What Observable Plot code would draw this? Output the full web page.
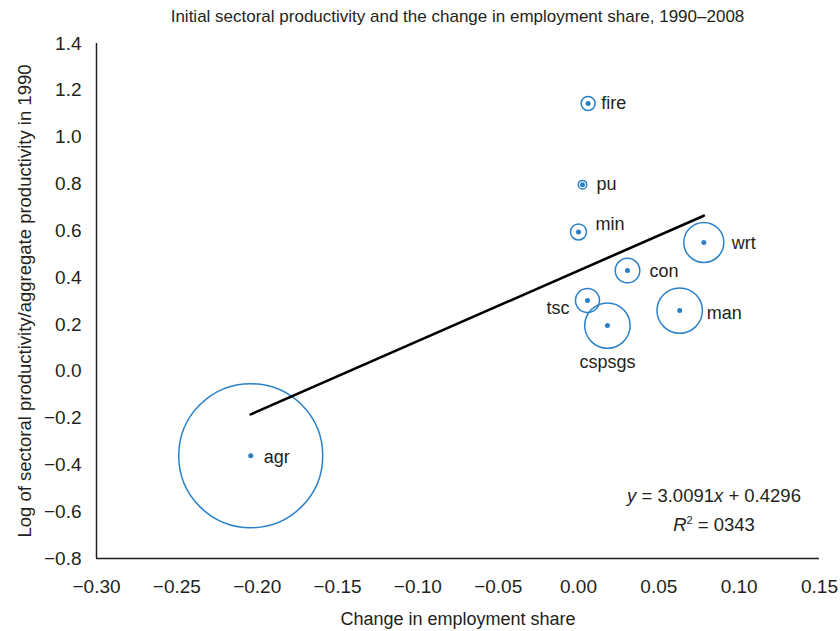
<!DOCTYPE html>
<html>
<head>
<meta charset="utf-8">
<script src="https://cdn.jsdelivr.net/npm/d3@7"></script>
<script src="https://cdn.jsdelivr.net/npm/@observablehq/plot@0.6"></script>
<style>
  body { margin: 0; background: #fff; font-family: "Liberation Sans", Arial, sans-serif; color: #231f20; }
  #wrap { position: relative; width: 840px; height: 631px; }
  #title { height: 34px; line-height: 34px; margin-left: 96px; width: 723px; text-align: center; font-size: 17px; white-space: nowrap; }
  #eq { position: absolute; left: 604px; top: 483px; width: 220px; text-align: center; font-size: 18.5px; line-height: 25px; }
  #eq i { font-style: italic; }
</style>
</head>
<body>
<div id="wrap">
  <div id="title">Initial sectoral productivity and the change in employment share, 1990–2008</div>
  <div id="chart"></div>
  <div id="eq"></div>
</div>
<script>
// ---- data ----
const sectors = ["agr", "min", "man", "pu", "con", "wrt", "tsc", "fire", "cspsgs"];
const changeInShare = [-0.204, 0.000, 0.063, 0.0025, 0.0305, 0.078, 0.0056, 0.006, 0.018];
const logRelProductivity = [-0.361, 0.595, 0.259, 0.797, 0.430, 0.550, 0.302, 1.144, 0.195];
const initialShare = [0.600, 0.0074, 0.0596, 0.0021, 0.0175, 0.0463, 0.0167, 0.0057, 0.0596];
const xTicks = [-0.30, -0.25, -0.20, -0.15, -0.10, -0.05, 0.00, 0.05, 0.10, 0.15];
const yTicks = [-0.8, -0.6, -0.4, -0.2, 0.0, 0.2, 0.4, 0.6, 0.8, 1.0, 1.2, 1.4];
const trendSlope = 3.0091;
const trendIntercept = 0.4296;
const trendR2Text = "0343";

// ---- label placement (style) ----
const labelPlacement = {
  agr:    { textAnchor: "start",  dx: 13,  dy: 2 },
  min:    { textAnchor: "start",  dx: 17,  dy: -8 },
  man:    { textAnchor: "start",  dx: 27,  dy: 3 },
  pu:     { textAnchor: "start",  dx: 14,  dy: 0 },
  con:    { textAnchor: "start",  dx: 22,  dy: 1 },
  wrt:    { textAnchor: "start",  dx: 28,  dy: 1 },
  tsc:    { textAnchor: "end",    dx: -18, dy: 8 },
  fire:   { textAnchor: "start",  dx: 13,  dy: 0 },
  cspsgs: { textAnchor: "middle", dx: 0,   dy: 37 }
};

const rows = sectors.map((s, i) => ({
  sector: s, x: changeInShare[i], y: logRelProductivity[i], share: initialShare[i]
}));
const trendPts = d3.extent(changeInShare).map(x => ({ x, y: trendSlope * x + trendIntercept }));

const blue = "#2a80c8";
const ink = "#231f20";
const fmtX = d => d.toFixed(2).replace("-", "\u2212");
const fmtY = d => d.toFixed(1).replace("-", "\u2212");

const chart = Plot.plot({
  width: 840,
  height: 597,
  marginTop: 9,
  marginBottom: 73,
  marginLeft: 96,
  marginRight: 21,
  style: { fontFamily: "'Liberation Sans', Arial, sans-serif", fontSize: "18px", color: ink, background: "#fff" },
  x: { domain: [-0.30, 0.15] },
  y: { domain: [-0.8, 1.4] },
  r: { type: "sqrt", domain: [0, 0.6], range: [0, 72] },
  marks: [
    Plot.axisX({ ticks: xTicks, tickSize: 0, tickPadding: 21, tickFormat: fmtX, fontSize: 19, label: null }),
    Plot.axisX({ ticks: [], tickSize: 0, fontSize: 18,
      label: "Change in employment share", labelAnchor: "center", labelArrow: "none", labelOffset: 66 }),
    Plot.axisY({ ticks: yTicks, tickSize: 0, tickPadding: 15, tickFormat: fmtY, fontSize: 19, label: null }),
    Plot.axisY({ ticks: [], tickSize: 0, fontSize: 18.5,
      label: "Log of sectoral productivity/aggregate productivity in 1990", labelAnchor: "center", labelArrow: "none", labelOffset: 79 }),
    Plot.ruleX([-0.30], { stroke: ink, strokeWidth: 1.5 }),
    Plot.ruleY([-0.8], { stroke: ink, strokeWidth: 1.5 }),
    Plot.dot(rows, { x: "x", y: "y", r: "share", stroke: blue, fill: "none", strokeWidth: 1.5 }),
    Plot.dot(rows, { x: "x", y: "y", r: 2.5, fill: blue, stroke: "none" }),
    Plot.line(trendPts, { x: "x", y: "y", stroke: "#000", strokeWidth: 2.6 }),
    ...sectors.map(s => Plot.text(rows.filter(d => d.sector === s), {
      x: "x", y: "y", text: "sector", fill: ink, fontSize: 18,
      textAnchor: labelPlacement[s].textAnchor, dx: labelPlacement[s].dx, dy: labelPlacement[s].dy
    }))
  ]
});
document.getElementById("chart").appendChild(chart);

const sign = trendIntercept < 0 ? "\u2212" : "+";
document.getElementById("eq").innerHTML =
  `<i>y</i> = ${trendSlope.toFixed(4)}<i>x</i> ${sign} ${Math.abs(trendIntercept).toFixed(4)}<br><i>R</i><sup style="font-size:11px">2</sup> = ${trendR2Text}`;
</script>
</body>
</html>
